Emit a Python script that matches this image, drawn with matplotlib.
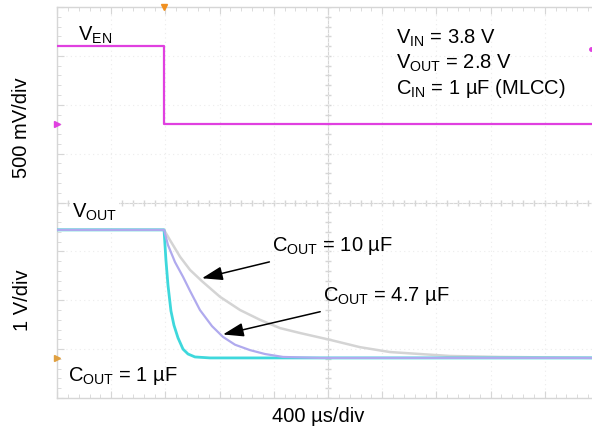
import numpy as np
import matplotlib.pyplot as plt

plt.rcParams["font.family"] = ["Liberation Sans", "DejaVu Sans"]
plt.rcParams["mathtext.fontset"] = "custom"
plt.rcParams["mathtext.rm"] = "Liberation Sans"
plt.rcParams["mathtext.it"] = "Liberation Sans:italic"

# scope traces (time in us, voltage in V)
t_en = [0, 790, 790, 4000]
v_en = [0.80, 0.80, 0.0, 0.0]

t_10u = [0, 790, 834, 908, 982, 1070, 1203, 1351, 1498, 1646, 1793, 2015,
         2236, 2458, 2679, 2900, 3269, 4000]
v_10u = [2.62, 2.62, 2.41, 2.07, 1.80, 1.57, 1.25, 0.98, 0.78, 0.61, 0.51, 0.37,
         0.22, 0.12, 0.08, 0.04, 0.02, 0.0]

t_4u7 = [0, 790, 819, 871, 930, 982, 1055, 1144, 1225, 1314, 1424, 1535,
         1668, 1941, 4000]
v_4u7 = [2.62, 2.62, 2.31, 1.96, 1.66, 1.37, 0.98, 0.65, 0.43, 0.27, 0.16, 0.08,
         0.02, 0.0, 0.0]

t_1u = [0, 790, 804, 819, 841, 863, 893, 930, 967, 1018, 1129, 4000]
v_1u = [2.62, 2.62, 2.00, 1.49, 0.96, 0.67, 0.41, 0.18, 0.08, 0.02, 0.0, 0.0]

# screen setup: 10 x 8 divisions
t_div = 400.0          # us/div
en_scale, en_gnd = 0.5, 5.60   # V/div, ground position in div
out_scale, out_gnd = 1.0, 0.82

fig = plt.figure(figsize=(5.92, 4.34), dpi=100)
ax = fig.add_axes([57 / 592, 36 / 434, 542 / 592, 391 / 434])
ax.set_xlim(0, 10 * t_div)
ax.set_ylim(0, 8)

# graticule
grat = "#d6d6d6"
for s in ax.spines.values():
    s.set_color(grat)
    s.set_linewidth(1.0)
ax.set_xticks(np.arange(0, 10 * t_div + 1, t_div))
ax.set_yticks(np.arange(0, 9, 1))
ax.set_xticks(np.arange(0, 10 * t_div + 1, t_div / 5), minor=True)
ax.set_yticks(np.arange(0, 8.01, 0.2), minor=True)
ax.tick_params(which="both", direction="in", top=True, right=True, color=grat,
               labelbottom=False, labelleft=False)
ax.tick_params(which="major", length=5)
ax.tick_params(which="minor", length=3)
ax.grid(True, which="major", color="#ececec", linestyle=(0, (1, 3)), linewidth=0.8)
ax.axhline(4, color=grat, linewidth=0.8, zorder=1)
ax.axvline(5 * t_div, color=grat, linewidth=0.8, zorder=1)
ax.plot(np.arange(0, 10 * t_div + 1, t_div / 5), np.full(51, 4.0), "|", color=grat,
        markersize=5, zorder=1)
ax.plot(np.full(41, 5 * t_div), np.arange(0, 8.01, 0.2), "_", color=grat,
        markersize=5, zorder=1)

# traces
ax.plot(t_en, en_gnd + np.array(v_en) / en_scale, color="#e040e0", linewidth=1.6, zorder=3)
ax.plot(t_10u, out_gnd + np.array(v_10u) / out_scale, color="#d4d4d4", linewidth=1.8, zorder=3)
ax.plot(t_1u, out_gnd + np.array(v_1u) / out_scale, color="#3ed8dc", linewidth=2.0, zorder=4)
ax.plot(t_4u7, out_gnd + np.array(v_4u7) / out_scale, color="#b0aaee", linewidth=1.6, zorder=5)

# channel / trigger markers
ax.plot([0], [en_gnd], marker=">", color="#e040e0", markersize=4, clip_on=False, zorder=6)
ax.plot([0], [out_gnd], marker=">", color="#e0a040", markersize=4, clip_on=False, zorder=6)
ax.plot([790], [8], marker="v", color="#f09020", markersize=5, clip_on=False, zorder=6)
ax.plot([9.86 * t_div], [7.15], marker="o", color="#e040e0", markersize=2.5, zorder=6)

fs = 14.5
ax.text(155, 7.42, r"V$_{\mathrm{EN}}$", fontsize=fs, va="center")
ax.text(110, 3.8, r"V$_{\mathrm{OUT}}$", fontsize=fs, va="center",
        bbox=dict(facecolor="white", edgecolor="none", pad=1.5), zorder=7)
ax.text(2500, 7.36, r"V$_{\mathrm{IN}}$ = 3.8 V", fontsize=fs, va="center")
ax.text(2500, 6.85, r"V$_{\mathrm{OUT}}$ = 2.8 V", fontsize=fs, va="center")
ax.text(2500, 6.34, r"C$_{\mathrm{IN}}$ = 1 µF (MLCC)", fontsize=fs, va="center")
ax.text(80, 0.45, r"C$_{\mathrm{OUT}}$ = 1 µF", fontsize=fs, va="center", zorder=7)

arrow = dict(arrowstyle="-|>,head_length=0.9,head_width=0.3", color="black",
             linewidth=1.1, mutation_scale=14)
ax.annotate(r"C$_{\mathrm{OUT}}$ = 10 µF", xy=(1070, 2.45), xytext=(1590, 3.1),
            fontsize=fs, va="center", arrowprops=dict(arrow, shrinkA=5, shrinkB=0))
ax.annotate(r"C$_{\mathrm{OUT}}$ = 4.7 µF", xy=(1225, 1.3), xytext=(1960, 2.08),
            fontsize=fs, va="center", arrowprops=dict(arrow, shrinkA=5, shrinkB=0))

fig.text(22 / 592, 1 - 128 / 434, "500 mV/div", rotation=90, fontsize=fs,
         ha="center", va="center")
fig.text(22 / 592, 1 - 300 / 434, "1 V/div", rotation=90, fontsize=fs,
         ha="center", va="center")
fig.text(318 / 592, 1 - 416 / 434, "400 µs/div", fontsize=fs, ha="center", va="center")

fig.savefig("out.png", dpi=100)
